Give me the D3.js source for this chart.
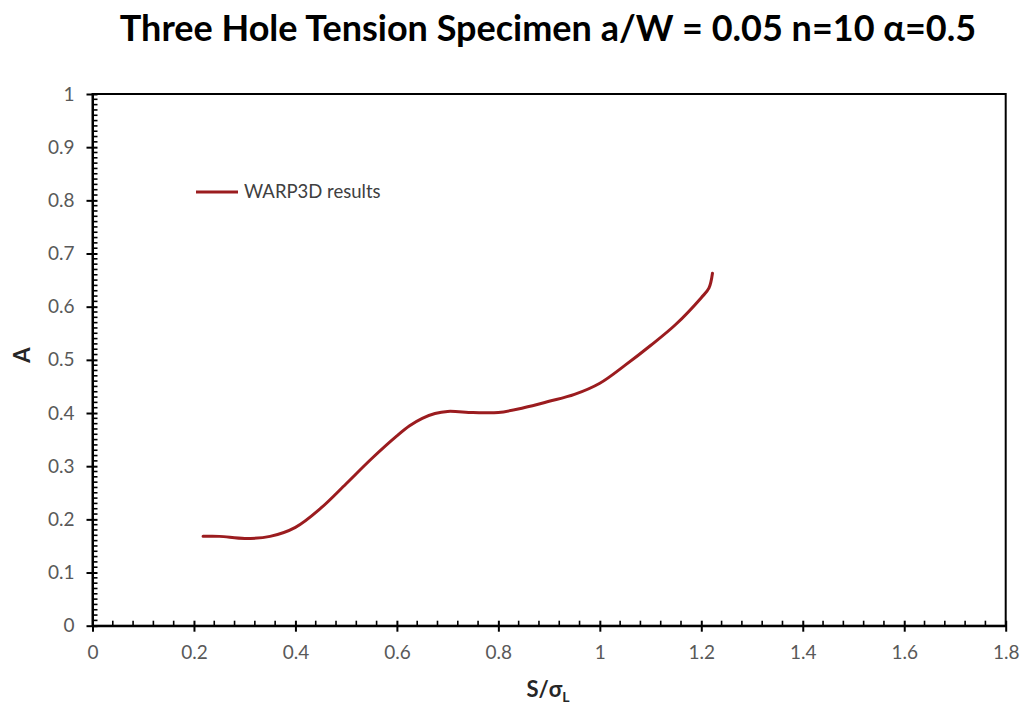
<!DOCTYPE html>
<html><head><meta charset="utf-8">
<script src="https://cdn.jsdelivr.net/npm/d3@7"></script>
<style>body{margin:0;background:#fff}svg{display:block}</style>
</head><body>
<svg id="c" width="1026" height="706"></svg>
<script>
const sValues = [0.218, 0.25, 0.30, 0.35, 0.40, 0.45, 0.50, 0.55, 0.60, 0.625, 0.65, 0.675, 0.70, 0.75, 0.80, 0.85, 0.90, 0.95, 1.00, 1.05, 1.10, 1.15, 1.20, 1.215, 1.222];
const aValues = [0.168, 0.168, 0.164, 0.168, 0.185, 0.221, 0.267, 0.314, 0.357, 0.376, 0.390, 0.399, 0.403, 0.401, 0.401, 0.410, 0.422, 0.435, 0.456, 0.490, 0.527, 0.567, 0.617, 0.635, 0.663];
const xTicks = [0, 0.2, 0.4, 0.6, 0.8, 1, 1.2, 1.4, 1.6, 1.8];
const yTicks = [0, 0.1, 0.2, 0.3, 0.4, 0.5, 0.6, 0.7, 0.8, 0.9, 1];
const titleText = "Three Hole Tension Specimen a/W = 0.05 n=10 α=0.5";
const seriesName = "WARP3D results";

const svg = d3.select("#c");
const font = "Lato, 'Open Sans', sans-serif";
const x = d3.scaleLinear().domain([0, 1.8]).range([92.5, 1005.7]);
const y = d3.scaleLinear().domain([0, 1]).range([625.7, 94]);

// frame
svg.append("rect").attr("x", x(0)).attr("y", y(1)).attr("width", x(1.8) - x(0)).attr("height", y(0) - y(1))
  .attr("fill", "none").attr("stroke", "#000").attr("stroke-width", 2);

// minor ticks
const xMinor = d3.range(0, 1.8001, 0.04).filter(v => Math.abs(v / 0.2 - Math.round(v / 0.2)) > 1e-6);
svg.append("g").selectAll("line").data(xMinor).join("line")
  .attr("x1", d => x(d)).attr("x2", d => x(d)).attr("y1", y(0)).attr("y2", y(0) - 5)
  .attr("stroke", "#000").attr("stroke-width", 1.6);
const yMinor = d3.range(0, 1.0001, 0.01).filter(v => Math.abs(v / 0.1 - Math.round(v / 0.1)) > 1e-6);
svg.append("g").selectAll("line").data(yMinor).join("line")
  .attr("x1", x(0)).attr("x2", x(0) + 5).attr("y1", d => y(d)).attr("y2", d => y(d))
  .attr("stroke", "#000").attr("stroke-width", 1.6);

// axes with major ticks
const xAxis = svg.append("g").attr("transform", `translate(0,${y(0)})`)
  .call(d3.axisBottom(x).tickValues(xTicks).tickFormat(d3.format("~g")).tickSizeInner(6).tickSizeOuter(0).tickPadding(14));
xAxis.select(".domain").attr("stroke-width", 2);
xAxis.selectAll(".tick line").attr("y1", -5).attr("stroke-width", 2);
xAxis.selectAll("text").attr("font-family", font).attr("font-size", 19).attr("fill", "#595959");

const yAxis = svg.append("g").attr("transform", `translate(${x(0)},0)`)
  .call(d3.axisLeft(y).tickValues(yTicks).tickFormat(d3.format("~g")).tickSizeInner(6).tickSizeOuter(0).tickPadding(12));
yAxis.select(".domain").attr("stroke-width", 2);
yAxis.selectAll(".tick line").attr("x1", 5).attr("stroke-width", 2);
yAxis.selectAll("text").attr("font-family", font).attr("font-size", 19).attr("fill", "#595959");

// line
const data = sValues.map((s, i) => [s, aValues[i]]);
svg.append("path").datum(data)
  .attr("fill", "none").attr("stroke", "#9b1c1f").attr("stroke-width", 3)
  .attr("stroke-linecap", "round")
  .attr("d", d3.line().x(d => x(d[0])).y(d => y(d[1])).curve(d3.curveCatmullRom.alpha(0.5)));

// legend
svg.append("line").attr("x1", 196).attr("x2", 238).attr("y1", 192).attr("y2", 192)
  .attr("stroke", "#9b1c1f").attr("stroke-width", 3);
svg.append("text").attr("x", 244).attr("y", 198).text(seriesName)
  .attr("font-family", font).attr("font-size", 18.5).attr("fill", "#404040");

// title
svg.append("text").attr("x", 548).attr("y", 41).attr("text-anchor", "middle").text(titleText)
  .attr("font-family", font).attr("font-weight", "bold").attr("font-size", 36).attr("fill", "#000");

// axis labels
const xl = svg.append("text").attr("x", 548).attr("y", 697).attr("text-anchor", "middle")
  .attr("font-family", font).attr("font-weight", "bold").attr("font-size", 22).attr("fill", "#262626");
xl.append("tspan").text("S/σ");
xl.append("tspan").attr("font-size", 14).attr("dy", 5).text("L");

svg.append("text").attr("transform", "translate(30,355) rotate(-90)").attr("text-anchor", "middle")
  .attr("font-family", font).attr("font-weight", "bold").attr("font-size", 22).attr("fill", "#262626").text("A");
</script>
</body></html>
